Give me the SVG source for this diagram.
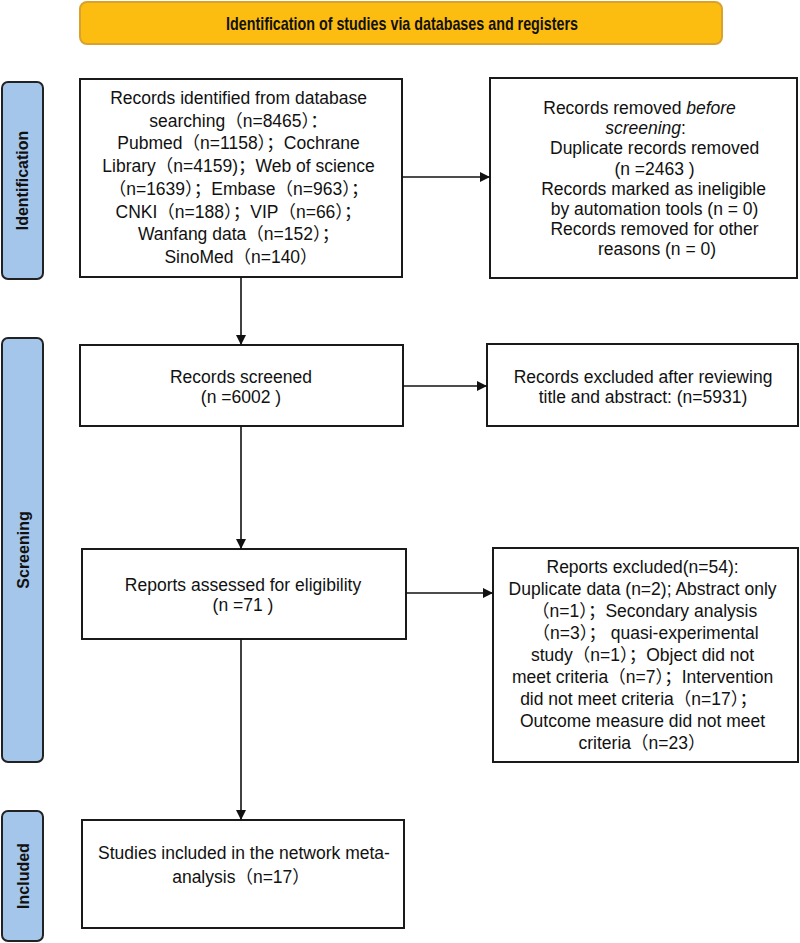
<svg xmlns="http://www.w3.org/2000/svg" width="800" height="943" viewBox="0 0 800 943">
<style>
.box{fill:#fff;stroke:#1a1a1a;stroke-width:2}
.lab{fill:#a4c6ea;stroke:#222;stroke-width:2}
.t{font-family:"Liberation Sans","Noto Sans CJK SC",Arial,sans-serif;font-size:17.5px;fill:#111;text-anchor:middle}
.lt{font-family:"Liberation Sans",Arial,sans-serif;font-size:16px;font-weight:bold;fill:#111;text-anchor:middle}
.con{stroke:#111;stroke-width:1.6;fill:none;marker-end:url(#ah)}
</style>
<defs>
<marker id="ah" viewBox="0 0 10 10" refX="10" refY="5" markerWidth="10" markerHeight="10" markerUnits="userSpaceOnUse" orient="auto">
<path d="M0,0 L10,5 L0,10 z" fill="#111"/>
</marker>
</defs>
<rect width="800" height="943" fill="#fff"/>
<g id="banner">
<rect x="80" y="2" width="642" height="42" rx="7" fill="#fdbd10" stroke="#d9a22e" stroke-width="2"/>
<text x="402" y="30" class="lt" style="font-size:19px" textLength="352" lengthAdjust="spacingAndGlyphs">Identification of studies via databases and registers</text>
</g>
<g id="label-identification">
<rect x="2" y="82" width="41" height="197" rx="6" class="lab"/>
<text x="22.5" y="186" class="lt" transform="rotate(-90 22.5 180.5)">Identification</text>
</g>
<g id="label-screening">
<rect x="2" y="338" width="41" height="424" rx="6" class="lab"/>
<text x="22.5" y="556" class="lt" transform="rotate(-90 22.5 550)">Screening</text>
</g>
<g id="label-included">
<rect x="2" y="811" width="41" height="130" rx="6" class="lab"/>
<text x="22.5" y="882" class="lt" transform="rotate(-90 22.5 876)">Included</text>
</g>
<g id="records-identified">
<rect x="80" y="79" width="322" height="198" class="box"/>
<text class="t">
<tspan x="241" y="104">Records identified from database</tspan>
<tspan x="241" y="126.7">searching（n=8465）：</tspan>
<tspan x="241" y="149.4">Pubmed（n=1158）；Cochrane</tspan>
<tspan x="241" y="172.1">Library（n=4159)；Web of science</tspan>
<tspan x="241" y="194.8">（n=1639）；Embase（n=963）；</tspan>
<tspan x="241" y="217.5">CNKI（n=188）；VIP（n=66）；</tspan>
<tspan x="241" y="240.2">Wanfang data（n=152）；</tspan>
<tspan x="241" y="262.9">SinoMed（n=140）</tspan>
</text>
</g>
<g id="records-removed">
<rect x="490" y="78" width="307" height="200" class="box"/>
<text class="t">
<tspan x="642" y="114">Records removed <tspan font-style="italic">before</tspan></tspan>
<tspan x="648" y="134.2"><tspan font-style="italic">screening</tspan>:</tspan>
<tspan x="657" y="154.4">Duplicate records removed</tspan>
<tspan x="657" y="174.6">(n =2463 )</tspan>
<tspan x="656" y="194.8">Records marked as ineligible</tspan>
<tspan x="657" y="215">by automation tools (n = 0)</tspan>
<tspan x="657" y="235.2">Records removed for other</tspan>
<tspan x="657" y="255.4">reasons (n = 0)</tspan>
</text>
</g>
<g id="records-screened">
<rect x="80" y="345" width="323" height="81" class="box"/>
<text class="t"><tspan x="241" y="383">Records screened</tspan><tspan x="241" y="403">(n =6002 )</tspan></text>
</g>
<g id="records-excluded">
<rect x="487" y="344" width="311" height="82" class="box"/>
<text class="t"><tspan x="643" y="383">Records excluded after reviewing</tspan><tspan x="643" y="403">title and abstract: (n=5931)</tspan></text>
</g>
<g id="reports-assessed">
<rect x="82" y="549" width="324" height="90" class="box"/>
<text class="t"><tspan x="243" y="591">Reports assessed for eligibility</tspan><tspan x="243" y="611">(n =71 )</tspan></text>
</g>
<g id="reports-excluded">
<rect x="493" y="548" width="305" height="214" class="box"/>
<text class="t">
<tspan x="645" y="573">Reports excluded(n=54):</tspan>
<tspan x="645" y="595">Duplicate data (n=2); Abstract only</tspan>
<tspan x="647" y="617">（n=1）；Secondary analysis</tspan>
<tspan x="648" y="639">（n=3）；   quasi-experimental</tspan>
<tspan x="645" y="661">study（n=1）；Object did not</tspan>
<tspan x="645" y="683">meet criteria（n=7）；Intervention</tspan>
<tspan x="641" y="705">did not meet criteria（n=17）；</tspan>
<tspan x="645" y="727">Outcome measure did not meet</tspan>
<tspan x="642" y="749">criteria（n=23）</tspan>
</text>
</g>
<g id="studies-included">
<rect x="82" y="820" width="322" height="108" class="box"/>
<text class="t"><tspan x="244" y="859">Studies included in the network meta-</tspan><tspan x="241" y="883">analysis（n=17）</tspan></text>
</g>
<g id="connectors">
<line x1="402" y1="177" x2="490" y2="177" class="con"/>
<line x1="241" y1="277" x2="241" y2="345" class="con"/>
<line x1="403" y1="386" x2="487" y2="386" class="con"/>
<line x1="241" y1="426" x2="241" y2="549" class="con"/>
<line x1="406" y1="593" x2="493" y2="593" class="con"/>
<line x1="241" y1="639" x2="241" y2="820" class="con"/>
</g>
</svg>
